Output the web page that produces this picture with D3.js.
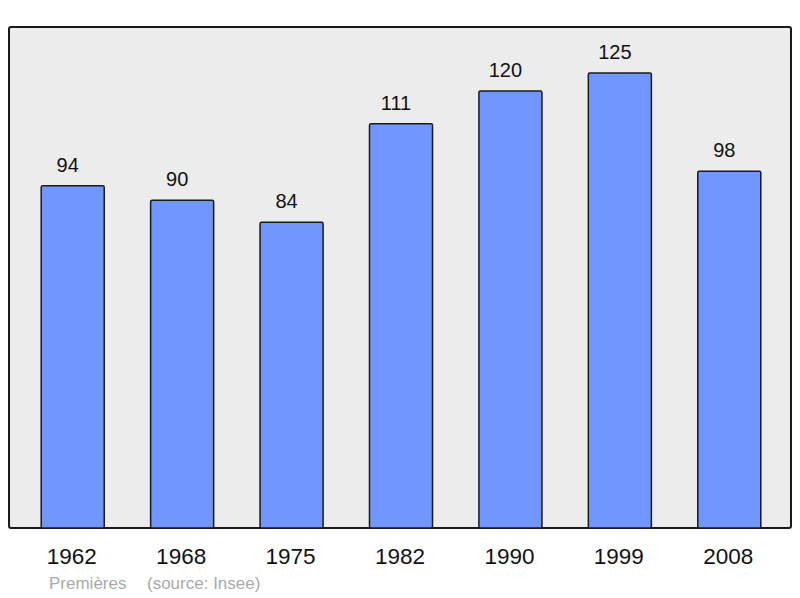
<!DOCTYPE html>
<html>
<head>
<meta charset="utf-8">
<script src="https://cdn.jsdelivr.net/npm/d3@7"></script>
<style>
  body { margin: 0; background: #fff; }
  text { font-family: "Liberation Sans", Arial, sans-serif; }
</style>
</head>
<body>
<script>
'use strict';

const years = ["1962", "1968", "1975", "1982", "1990", "1999", "2008"];
const population = [94, 90, 84, 111, 120, 125, 98];
const footnotes = ["Premières", "(source: Insee)"];

const width = 800, height = 598;
const frame = { left: 9, top: 27, right: 791, bottom: 528 };

let svg = d3.select("body").append("svg")
    .attr("width", width)
    .attr("height", height);

svg.append("rect")
    .attr("x", frame.left)
    .attr("y", frame.top)
    .attr("width", frame.right - frame.left)
    .attr("height", frame.bottom - frame.top)
    .attr("rx", 2)
    .attr("fill", "#ececec")
    .attr("stroke", "#1a1a1a")
    .attr("stroke-width", 2);

let x = d3.scaleBand()
    .domain(years)
    .range([18, 784])
    .paddingInner(0.424)
    .paddingOuter(0.212);

let y = d3.scaleLinear()
    .domain([0, 137.6])
    .range([frame.bottom, frame.top]);

let bars = svg.append("g")
    .selectAll("g")
    .data(population)
    .enter().append("g");

bars.append("rect")
    .attr("x", (d, i) => x(years[i]))
    .attr("y", d => y(d))
    .attr("width", x.bandwidth())
    .attr("height", d => y(0) - y(d))
    .attr("rx", 1.5)
    .attr("fill", "#7097ff")
    .attr("stroke", "#1a1a1a")
    .attr("stroke-width", 1.5);

// value labels sit a little left of the bar centre in the original
bars.append("text")
    .attr("x", (d, i) => x(years[i]) + x.bandwidth() / 2 - 5)
    .attr("y", d => y(d) - 14)
    .attr("text-anchor", "middle")
    .attr("font-size", 20)
    .attr("fill", "#111")
    .text(d => d);

// x axis, labels only
let axis = svg.append("g")
    .attr("transform", "translate(0," + frame.bottom + ")")
    .call(d3.axisBottom(x).tickSize(0).tickPadding(0));
axis.select(".domain").remove();
axis.selectAll("text")
    .attr("dy", 0)
    .attr("y", 36)
    .attr("x", -1)
    .attr("font-size", 22.5)
    .attr("font-family", "'Liberation Sans', Arial, sans-serif")
    .attr("fill", "#111");

svg.append("text")
    .attr("x", 49)
    .attr("y", 589)
    .attr("font-size", 17)
    .attr("fill", "#aaa")
    .text(footnotes[0]);

svg.append("text")
    .attr("x", 147)
    .attr("y", 589)
    .attr("font-size", 17)
    .attr("fill", "#aaa")
    .text(footnotes[1]);
</script>
</body>
</html>
